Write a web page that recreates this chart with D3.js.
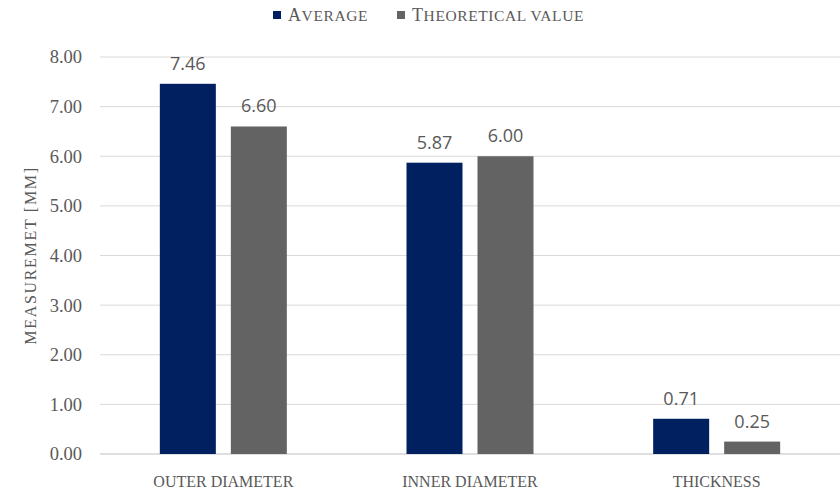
<!DOCTYPE html>
<html>
<head>
<meta charset="utf-8">
<script src="https://cdn.jsdelivr.net/npm/d3@7"></script>
<style>
  body { margin: 0; background: #fff; }
  svg text { fill: #595959; }
</style>
</head>
<body>
<svg id="chart" width="840" height="492"></svg>
<script>
// chart data
var categories = ["OUTER DIAMETER", "INNER DIAMETER", "THICKNESS"];
var seriesNames = ["AVERAGE", "THEORETICAL VALUE"];
var averageValues = [7.46, 5.87, 0.71];
var theoreticalValues = [6.60, 6.00, 0.25];
var yTicks = [0, 1, 2, 3, 4, 5, 6, 7, 8];
var colors = ["#002060", "#636363"];

var svg = d3.select("#chart"),
    width = 840,
    height = 492;

var margin = { left: 100, right: 0, top: 57, bottom: 38 };
var serif = "'Liberation Serif', 'Times New Roman', serif";

var x = d3.scaleBand()
    .domain(categories)
    .range([margin.left, width - margin.right])
    .padding(0);

var y = d3.scaleLinear()
    .domain([0, 8])
    .range([height - margin.bottom, margin.top]);

// gridlines
svg.append("g")
    .selectAll("line")
    .data(yTicks)
    .enter()
    .append("line")
    .attr("x1", margin.left)
    .attr("x2", width)
    .attr("y1", d => y(d))
    .attr("y2", d => y(d))
    .attr("stroke", d => d === 0 ? "#bfbfbf" : "#d9d9d9")
    .attr("stroke-width", 1);

// y tick labels
svg.append("g")
    .selectAll("text")
    .data(yTicks)
    .enter()
    .append("text")
    .attr("x", 82)
    .attr("y", d => y(d))
    .attr("dy", "0.35em")
    .attr("text-anchor", "end")
    .style("font-family", serif)
    .style("font-size", "18.5px")
    .text(d => d.toFixed(2));

// y axis title
svg.append("text")
    .attr("transform", "translate(30," + y(4) + ") rotate(-90)")
    .attr("text-anchor", "middle")
    .attr("dy", "0.35em")
    .style("font-family", serif)
    .style("font-size", "16px")
    .style("letter-spacing", "1.7px")
    .text("MEASUREMET [MM]");

// bars
var barW = 56, gap = 15;
var series = [averageValues, theoreticalValues];
series.forEach(function (vals, si) {
    var g = svg.append("g");
    g.selectAll("rect")
        .data(vals)
        .enter()
        .append("rect")
        .attr("x", function (d, i) {
            var c = x(categories[i]) + x.bandwidth() / 2;
            return si === 0 ? c - gap / 2 - barW : c + gap / 2;
        })
        .attr("y", d => y(d))
        .attr("width", barW)
        .attr("height", d => y(0) - y(d))
        .attr("fill", colors[si]);

    g.selectAll("text")
        .data(vals)
        .enter()
        .append("text")
        .attr("x", function (d, i) {
            var c = x(categories[i]) + x.bandwidth() / 2;
            return si === 0 ? c - gap / 2 - barW / 2 : c + gap / 2 + barW / 2;
        })
        .attr("y", d => y(d) - 14)
        .attr("text-anchor", "middle")
        .style("font-family", "'Open Sans', 'Liberation Sans', sans-serif")
        .style("font-size", "18px")
        .text(d => d.toFixed(2));
});

// category labels
svg.append("g")
    .selectAll("text")
    .data(categories)
    .enter()
    .append("text")
    .attr("x", d => x(d) + x.bandwidth() / 2)
    .attr("y", 487)
    .attr("text-anchor", "middle")
    .style("font-family", serif)
    .style("font-size", "16px")
    .text(d => d);

// legend (small caps look: first letter larger)
var legendX = [273, 397];
var legend = svg.append("g");
seriesNames.forEach(function (name, i) {
    legend.append("rect")
        .attr("x", legendX[i])
        .attr("y", 11)
        .attr("width", 8)
        .attr("height", 8)
        .attr("fill", colors[i]);
    var t = legend.append("text")
        .attr("x", legendX[i] + 15)
        .attr("y", 21)
        .style("font-family", serif)
        .style("letter-spacing", "0.6px");
    t.append("tspan").style("font-size", "18px").text(name[0]);
    t.append("tspan").style("font-size", "15.5px").text(name.slice(1));
});
</script>
</body>
</html>
